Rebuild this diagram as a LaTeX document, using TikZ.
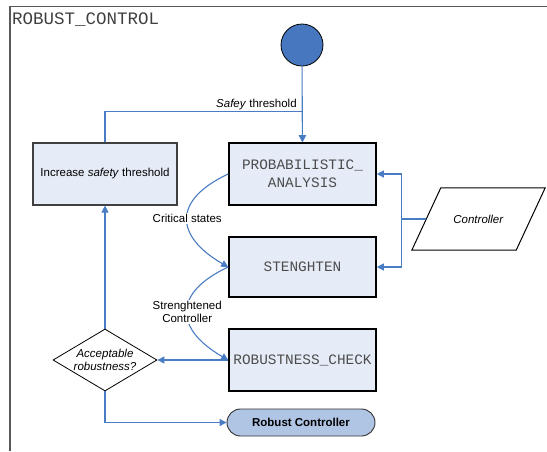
\documentclass[tikz,border=0pt]{standalone}
\usepackage{fontspec}
\setmainfont{Liberation Sans}
\setmonofont{Liberation Mono}
\usetikzlibrary{arrows.meta,shapes.geometric,positioning}
\definecolor{boxfill}{HTML}{E6ECF7}
\definecolor{flowblue}{HTML}{4A7CC4}
\definecolor{startblue}{HTML}{4677BF}
\definecolor{termfill}{HTML}{B0C4E4}
\tikzset{
  txt/.style={font=\fontsize{11.5}{13.5}\selectfont},
  mono/.style={font=\ttfamily\fontsize{14.4}{18}\selectfont, text=black!70},
  procbox/.style={draw=black, line width=1.6pt, fill=boxfill, minimum width=147, minimum height=62, inner sep=0, align=center, mono},
  actbox/.style={draw=black!75, line width=1.1pt, fill=boxfill, minimum width=144, minimum height=62, inner sep=0, align=center, txt},
  decision/.style={diamond, draw=black, line width=0.8pt, fill=white, minimum width=104, minimum height=62, inner sep=0},
  datain/.style={minimum width=104, minimum height=62, inner sep=0, txt},
  terminal/.style={draw=black!80, line width=0.9pt, fill=termfill, rounded corners=13.5, minimum width=148, minimum height=27, inner sep=0, txt, font=\fontsize{11.5}{13.5}\selectfont\bfseries},
  flow/.style={draw=flowblue, line width=1.1pt, -{Triangle[length=7pt,width=7pt]}},
  flowlabel/.style={txt, fill=white, inner sep=1pt, align=center}
}
\pgfmathsetmacro{\slant}{14.5}
\begin{document}
\begin{tikzpicture}[x=1pt,y=-1pt]
\useasboundingbox (0,0) rectangle (547,451);
\draw[black!65, line width=1.5pt] (10,451) -- (10,6.5) -- (547,6.5);
\node[anchor=west, font=\ttfamily\fontsize{17.5}{20}\selectfont, text=black!75, inner sep=0] (title) at (12,20) {ROBUST\_CONTROL};

\node[circle, draw=black, line width=0.8pt, fill=startblue, minimum size=42, inner sep=0] (start) at (302,45) {};
\node[procbox] (prob) at (302.5,174) {PROBABILISTIC\_\\ANALYSIS};
\node[procbox, minimum height=60] (stren) at (302.5,267) {STENGHTEN};
\node[procbox] (robust) at (302.5,360) {ROBUSTNESS\_CHECK};
\node[terminal] (result) at (301,422.5) {Robust Controller};
\node[actbox] (inc) at (105,174) {Increase \textit{safety} threshold};
\node[decision] (decide) at (105,360) {};
\node[txt, align=center, font=\fontsize{11.5}{13.5}\selectfont\itshape] (decidetext) at (decide) {Acceptable\\robustness?};
\node[datain] (ctrl) at (478.5,219) {\textit{Controller}};
\draw[black, line width=1pt] ([xshift=-\slant]ctrl.south west) -- ([xshift=\slant]ctrl.north west) -- ([xshift=\slant]ctrl.north east) -- ([xshift=-\slant]ctrl.south east) -- cycle;

\draw[flow] (start) -- (prob) node[pos=0.5, left=5pt, txt, inner sep=0] (thr) {\textit{Safey} threshold};
\draw[flow] (inc.north) -- ++(0,-31) -| (prob.north);
\draw[flow] (prob.west) to[out=205, in=150, looseness=1.7] node[flowlabel] (crit) {Critical states} (stren.west);
\draw[flow] (stren.west) to[out=205, in=150, looseness=1.7] node[flowlabel] (strong) {Strenghtened\\Controller} (robust.west);
\draw[flow] (ctrl.west) -- ++(-25,0) coordinate (split) |- (prob.east);
\draw[flow] (split) |- (stren.east);
\draw[flow] (robust.west) -- (decide.east);
\draw[flow] (decide.north) -- (inc.south);
\draw[flow] (decide.south) |- (result.west);
\end{tikzpicture}
\end{document}
